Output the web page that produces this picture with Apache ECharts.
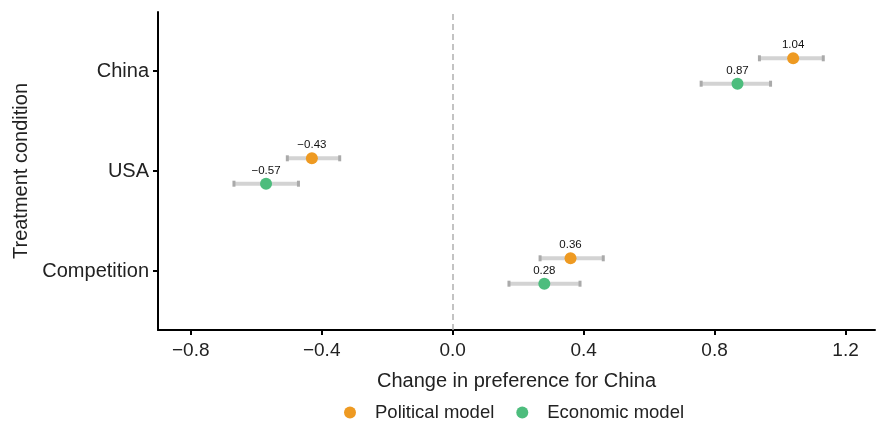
<!DOCTYPE html>
<html>
<head>
<meta charset="utf-8">
<script src="https://cdn.jsdelivr.net/npm/echarts@6/dist/echarts.min.js"></script>
<style>
  html, body { margin: 0; padding: 0; background: #fff; }
  #chart { width: 879px; height: 422px; }
</style>
</head>
<body>
<div id="chart"></div>
<script>
window.onload = function() {

    // 类别 (y 位置: China=3, USA=2, Competition=1)
    var categories = ['China', 'USA', 'Competition'];
    var catPos = [3, 2, 1];
    var xTicks = [-0.8, -0.4, 0.0, 0.4, 0.8, 1.2];

    var political = [1.04, -0.43, 0.36];
    var politicalLow = [0.937, -0.505, 0.267];
    var politicalHigh = [1.132, -0.345, 0.46];

    var economic = [0.87, -0.57, 0.28];
    var economicLow = [0.759, -0.668, 0.172];
    var economicHigh = [0.971, -0.471, 0.389];

    var ORANGE = '#EE9A22';
    var GREEN = '#4DBD7D';
    var FONT = 'Liberation Sans';

    function fmtNum(v, d) {
        return v.toFixed(d).replace('-', '\u2212');
    }

    function buildBars(low, high, off) {
        var out = [];
        for (var i = 0; i < catPos.length; i++) {
            out.push([low[i], high[i], catPos[i] + off]);
        }
        return out;
    }

    function buildPts(vals, off) {
        var out = [];
        for (var i = 0; i < catPos.length; i++) {
            out.push([vals[i], catPos[i] + off]);
        }
        return out;
    }

    // 误差线
    function renderBar(params, api) {
        var p1 = api.coord([api.value(0), api.value(2)]);
        var p2 = api.coord([api.value(1), api.value(2)]);
        return {
            type: 'group',
            children: [{
                type: 'line',
                shape: { x1: p1[0], y1: p1[1], x2: p2[0], y2: p2[1] },
                style: { stroke: '#d3d3d3', lineWidth: 4 }
            }, {
                type: 'rect',
                shape: { x: p1[0] - 1.5, y: p1[1] - 3, width: 3, height: 6 },
                style: { fill: '#aaaaaa' }
            }, {
                type: 'rect',
                shape: { x: p2[0] - 1.5, y: p2[1] - 3, width: 3, height: 6 },
                style: { fill: '#aaaaaa' }
            }]
        };
    }

    var OFF = 0.127;

    var pointLabel = {
        show: true,
        position: 'top',
        distance: 1,
        fontSize: 11.5,
        color: '#111',
        formatter: function(p) { return fmtNum(p.value[0], 2); }
    };

    var chart = echarts.init(document.getElementById('chart'));
    chart.setOption({
        animation: false,
        textStyle: { fontFamily: FONT },
        grid: { left: 158, right: 4, top: 12, bottom: 92 },
        legend: {
            top: 398,
            left: 339,
            icon: 'circle',
            itemWidth: 12,
            itemHeight: 12,
            itemGap: 22,
            textStyle: { fontSize: 18.5, color: '#222', fontFamily: FONT, padding: [0, 0, 0, 14] },
            data: [
                { name: 'Political model', itemStyle: { color: ORANGE } },
                { name: 'Economic model', itemStyle: { color: GREEN } }
            ]
        },
        xAxis: {
            type: 'value',
            min: -0.9,
            max: 1.29,
            name: 'Change in preference for China',
            nameLocation: 'middle',
            nameGap: 41,
            nameTextStyle: { fontSize: 20, color: '#222', fontFamily: FONT },
            splitLine: { show: false },
            axisLine: { show: true, onZero: false, lineStyle: { color: '#000', width: 2 } },
            axisTick: { show: true, length: 5, customValues: xTicks, lineStyle: { color: '#000', width: 2 } },
            axisLabel: {
                customValues: xTicks,
                fontSize: 19,
                color: '#222',
                margin: 11,
                formatter: function(v) { return fmtNum(v, 1); }
            }
        },
        yAxis: {
            type: 'value',
            min: 0.41,
            max: 3.59,
            name: 'Treatment condition',
            nameLocation: 'middle',
            nameGap: 126,
            nameRotate: 90,
            nameTextStyle: { fontSize: 20, color: '#222', fontFamily: FONT },
            splitLine: { show: false },
            axisLine: { show: true, onZero: false, lineStyle: { color: '#000', width: 2 } },
            axisTick: { show: true, length: 5, customValues: catPos, lineStyle: { color: '#000', width: 2 } },
            axisLabel: {
                customValues: catPos,
                fontSize: 20,
                color: '#222',
                margin: 9,
                formatter: function(v) {
                    var i = catPos.indexOf(Math.round(v));
                    return i >= 0 ? categories[i] : '';
                }
            }
        },
        series: [{
            type: 'custom',
            name: 'polBars',
            renderItem: renderBar,
            data: buildBars(politicalLow, politicalHigh, OFF),
            z: 1,
            markLine: {
                silent: true,
                symbol: 'none',
                label: { show: false },
                lineStyle: { color: '#b0b0b0', type: [6, 4], width: 1.5 },
                data: [{ xAxis: 0 }]
            }
        }, {
            type: 'custom',
            name: 'ecoBars',
            renderItem: renderBar,
            data: buildBars(economicLow, economicHigh, -OFF),
            z: 1
        }, {
            type: 'scatter',
            name: 'Political model',
            data: buildPts(political, OFF),
            symbolSize: 12,
            itemStyle: { color: ORANGE, opacity: 1 },
            z: 3,
            label: pointLabel
        }, {
            type: 'scatter',
            name: 'Economic model',
            data: buildPts(economic, -OFF),
            symbolSize: 12,
            itemStyle: { color: GREEN, opacity: 1 },
            z: 3,
            label: pointLabel
        }]
    });
}
</script>
</body>
</html>
